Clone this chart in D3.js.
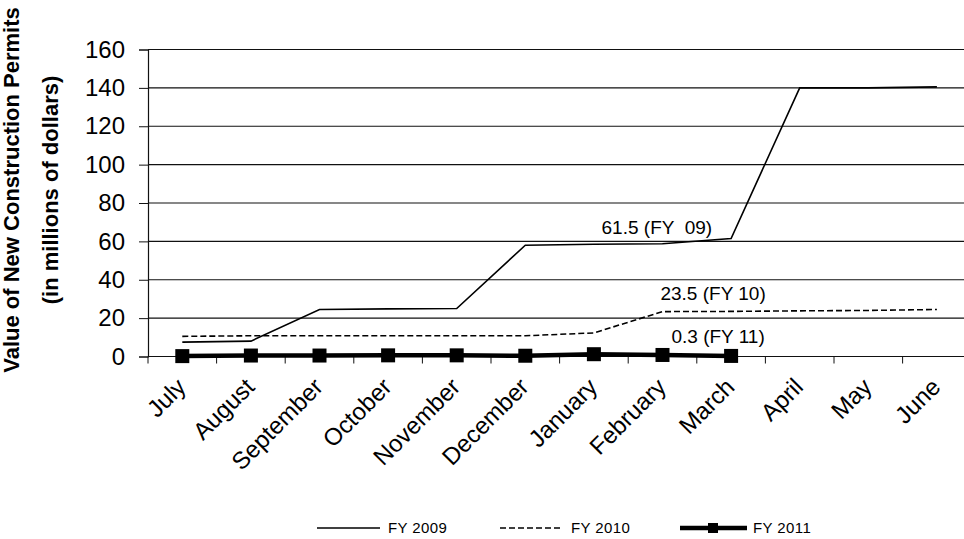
<!DOCTYPE html>
<html>
<head>
<meta charset="utf-8">
<script src="https://cdn.jsdelivr.net/npm/d3@7"></script>
<style>
  html, body { margin: 0; padding: 0; background: #fff; }
  svg { display: block; font-family: "Liberation Sans", Arial, sans-serif; }
</style>
</head>
<body>
<svg id="chart" width="964" height="539"></svg>
<script>
// Fiscal-year months, July through June
const months = ["July", "August", "September", "October", "November", "December",
                "January", "February", "March", "April", "May", "June"];

// Cumulative value of new construction permits (millions of dollars)
const fy2009 = [7.5, 8, 24.5, 24.8, 25, 58, 58.5, 58.8, 61.5, 140, 140, 140.5];
const fy2010 = [10.5, 10.8, 10.8, 10.8, 10.8, 10.8, 12.3, 23.4, 23.5, 23.8, 24, 24.5];
const fy2011 = [0.2, 0.5, 0.5, 0.6, 0.6, 0.4, 1.2, 0.8, 0.3];

const yTicks = [0, 20, 40, 60, 80, 100, 120, 140, 160];

const seriesNames = ["FY 2009", "FY 2010", "FY 2011"];

// Callout labels: series index, month index, text
const callouts = [
  { s: 0, m: 8, text: "61.5 (FY  09)" },
  { s: 1, m: 8, text: "23.5 (FY 10)" },
  { s: 2, m: 8, text: "0.3 (FY 11)" }
];

const svg = d3.select("#chart");
const plotLeft = 148, plotTop = 49.5, plotBottom = 356.5, bandStep = 68.6;

const x = d3.scaleBand().domain(months).range([plotLeft, plotLeft + bandStep * months.length]).padding(0);
const y = d3.scaleLinear().domain([0, 160]).range([plotBottom, plotTop]);
const cx = m => x(m) + x.bandwidth() / 2;

// Horizontal gridlines
svg.append("g").selectAll("line").data(yTicks.filter(d => d > 0)).join("line")
  .attr("x1", plotLeft).attr("x2", 964)
  .attr("y1", d => y(d)).attr("y2", d => y(d))
  .attr("stroke", "#111").attr("stroke-width", 1.1);

// Y axis
const yAxis = svg.append("g").attr("transform", `translate(${plotLeft},0)`)
  .call(d3.axisLeft(y).tickValues(yTicks).tickSize(9).tickPadding(14));
yAxis.select(".domain").attr("stroke", "#111").attr("stroke-width", 1.2);
yAxis.selectAll(".tick line").attr("stroke", "#111");
yAxis.selectAll(".tick text").attr("font-size", 24).attr("fill", "#000")
  .attr("font-family", "Liberation Sans, Arial, sans-serif");

// X axis with ticks at band boundaries
const xAxis = svg.append("g").attr("transform", `translate(0,${plotBottom})`);
xAxis.append("line").attr("x1", plotLeft).attr("x2", 964).attr("stroke", "#111").attr("stroke-width", 1.2);
xAxis.selectAll("line.tk").data(months.concat(["end"])).join("line").attr("class", "tk")
  .attr("x1", (d, i) => plotLeft + i * x.bandwidth()).attr("x2", (d, i) => plotLeft + i * x.bandwidth())
  .attr("y1", 0).attr("y2", 7).attr("stroke", "#111");
xAxis.selectAll("text").data(months).join("text")
  .attr("transform", d => `translate(${cx(d) - 1},${26}) rotate(-45)`)
  .attr("text-anchor", "end").attr("dy", "0.35em")
  .attr("font-size", 24).attr("fill", "#000")
  .text(d => d);

// Series lines
const line = d3.line().x((d, i) => cx(months[i])).y(d => y(d));

svg.append("path").datum(fy2009).attr("d", line)
  .attr("fill", "none").attr("stroke", "#000").attr("stroke-width", 1.6);
svg.append("path").datum(fy2010).attr("d", line)
  .attr("fill", "none").attr("stroke", "#000").attr("stroke-width", 1.6)
  .attr("stroke-dasharray", "6,3");
svg.append("path").datum(fy2011).attr("d", line)
  .attr("fill", "none").attr("stroke", "#000").attr("stroke-width", 4.5);
svg.append("g").selectAll("rect").data(fy2011).join("rect")
  .attr("x", (d, i) => cx(months[i]) - 7).attr("y", d => y(d) - 7)
  .attr("width", 14).attr("height", 14).attr("fill", "#000");

// Callouts
const allSeries = [fy2009, fy2010, fy2011];
const calloutOffsets = [{ dx: -19, dy: -4, anchor: "end" }, { dx: -18, dy: -11, anchor: "middle" }, { dx: -13, dy: -13, anchor: "middle" }];
svg.append("g").selectAll("text").data(callouts).join("text")
  .attr("x", d => cx(months[d.m]) + calloutOffsets[d.s].dx)
  .attr("y", d => y(allSeries[d.s][d.m]) + calloutOffsets[d.s].dy)
  .attr("text-anchor", d => calloutOffsets[d.s].anchor)
  .attr("font-size", 19).attr("fill", "#000")
  .style("white-space", "pre")
  .text(d => d.text);

// Y axis title
const title = svg.append("text")
  .attr("transform", "translate(0,190) rotate(-90)")
  .attr("text-anchor", "middle").attr("font-size", 22).attr("font-weight", "bold").attr("fill", "#000");
title.append("tspan").attr("x", 0).attr("y", 19).text("Value of New Construction Permits");
title.append("tspan").attr("x", 0).attr("y", 58).text("(in millions of dollars)");

// Legend
const legendX = [317, 500, 680];
const lg = svg.append("g").selectAll("g").data(seriesNames).join("g")
  .attr("transform", (d, i) => `translate(${legendX[i]},528)`);
lg.append("line").attr("x1", 0).attr("x2", (d, i) => i === 2 ? 67 : 63)
  .attr("stroke", "#000")
  .attr("stroke-width", (d, i) => i === 2 ? 4.5 : 1.4)
  .attr("stroke-dasharray", (d, i) => i === 1 ? "6,3" : null);
lg.filter((d, i) => i === 2).append("rect").attr("x", 28).attr("y", -5).attr("width", 10).attr("height", 10).attr("fill", "#000");
lg.append("text").attr("x", (d, i) => i === 2 ? 73 : 71).attr("y", 5)
  .attr("font-size", 15).attr("letter-spacing", "0.4px").attr("fill", "#000").text(d => d);
</script>
</body>
</html>
